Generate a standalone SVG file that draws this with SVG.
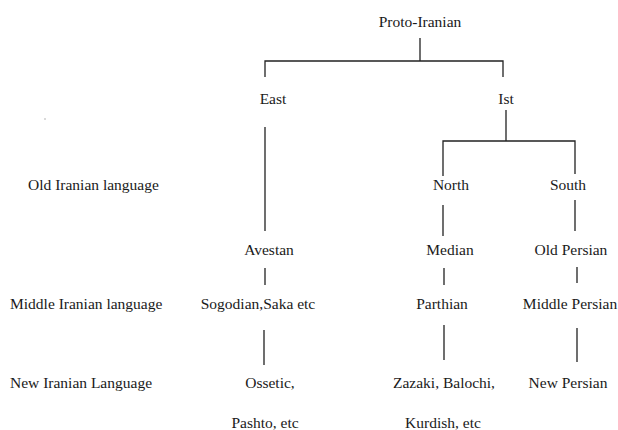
<svg xmlns="http://www.w3.org/2000/svg" width="618" height="430" viewBox="0 0 618 430">
<style>
text{font-family:"Liberation Serif","Times New Roman",serif;font-size:15.5px;fill:#1a1a1a}
.c{text-anchor:middle}
.l{stroke:#222;stroke-width:1.3;fill:none}
</style>
<rect width="618" height="430" fill="#fff"/>
<circle cx="45" cy="119" r="0.7" fill="#999"/>
<g id="labels">
<text x="28" y="190">Old Iranian language</text>
<text x="10" y="309">Middle Iranian language</text>
<text x="10" y="388">New Iranian Language</text>
</g>
<g id="connectors">
<path class="l" d="M420 38V61M265 77V61H503V77"/>
<path class="l" d="M506 110V141M443 176V141H575V174"/>
<path class="l" d="M265 127V231M265 268V285M264 330V365"/>
<path class="l" d="M443 205V236M444 268V285M444 325V360"/>
<path class="l" d="M575 200V231M577 267V283M577 328V362"/>
</g>
<g id="proto"><text class="c" x="420" y="27">Proto-Iranian</text></g>
<g id="east"><text class="c" x="273" y="104">East</text></g>
<g id="ist"><text class="c" x="506" y="104">Ist</text></g>
<g id="north"><text class="c" x="451" y="190">North</text></g>
<g id="south"><text class="c" x="568" y="190">South</text></g>
<g id="avestan"><text class="c" x="269" y="255">Avestan</text></g>
<g id="median"><text class="c" x="450" y="255">Median</text></g>
<g id="oldpersian"><text class="c" x="571" y="255">Old Persian</text></g>
<g id="sogodian"><text class="c" x="258" y="309">Sogodian,Saka etc</text></g>
<g id="parthian"><text class="c" x="442" y="309">Parthian</text></g>
<g id="middlepersian"><text class="c" x="570" y="309">Middle Persian</text></g>
<g id="ossetic"><text class="c" x="270" y="388">Ossetic,</text><text class="c" x="265" y="428">Pashto, etc</text></g>
<g id="zazaki"><text class="c" x="444" y="388">Zazaki, Balochi,</text><text class="c" x="443" y="428">Kurdish, etc</text></g>
<g id="newpersian"><text class="c" x="568" y="388">New Persian</text></g>
</svg>
